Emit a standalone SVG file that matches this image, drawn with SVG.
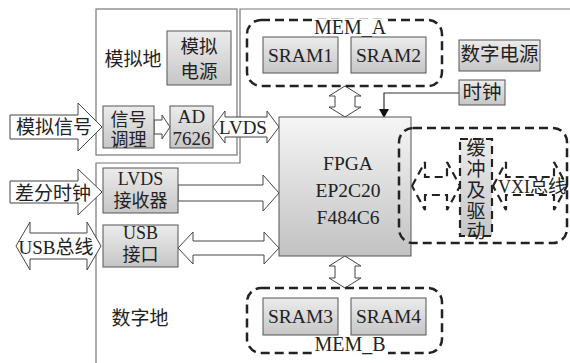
<svg xmlns="http://www.w3.org/2000/svg" width="570" height="363" viewBox="0 0 570 363">
<defs>
<linearGradient id="g" x1="0" y1="0" x2="0" y2="1"><stop offset="0" stop-color="#ececec"/><stop offset="1" stop-color="#c6c6c6"/></linearGradient>
<linearGradient id="gf" x1="0" y1="0" x2="0" y2="1"><stop offset="0" stop-color="#f6f6f6"/><stop offset="1" stop-color="#c2c2c2"/></linearGradient>
<style>
text{font-family:"Liberation Serif","Noto Sans CJK SC",serif;fill:#222;text-anchor:middle}
.box{fill:url(#g);stroke:#555;stroke-width:1}
.ha{fill:#fff;stroke:#444;stroke-width:1}
.da{fill:none;stroke:#222;stroke-width:2.2;stroke-dasharray:8 5}
.grp{fill:none;stroke:#222;stroke-width:2.5;stroke-dasharray:9 5}
.gnd{fill:none;stroke:#777;stroke-width:1.2}
</style>
</defs>
<rect width="570" height="363" fill="#fff"/>
<g id="grounds">
<rect class="gnd" x="96" y="9" width="141" height="146"/>
<polyline class="gnd" points="96,363 96,163 240,163 240,9 570,9"/>
<text x="133" y="66" font-size="19">模拟地</text>
<text x="140" y="325" font-size="19">数字地</text>
</g>
<g id="connectors">
<polygon class="ha" points="10,115 78,115 78,103 102,127 78,151 78,139 10,139"/>
<polygon class="ha" points="154,120 162,120 162,115 170,127 162,139 162,134 154,134"/>
<polygon class="ha" points="213,127 225,111 225,117 267,117 267,111 279,127 267,143 267,137 225,137 225,143"/>
<polygon class="ha" points="10,181 78,181 78,169 102,192 78,215 78,203 10,203"/>
<polygon class="ha" points="178,185 263,185 263,175 279,193 263,211 263,201 178,201"/>
<polygon class="ha" points="16,246 30,222 30,233 87,233 87,222 101,246 87,270 87,259 30,259 30,270"/>
<polygon class="ha" points="178,248 193,232 193,241 264,241 264,232 279,248 264,264 264,255 193,255 193,264"/>
<polygon class="ha" points="345,86 361,96 355,96 355,107 361,107 345,117 329,107 335,107 335,96 329,96"/>
<polygon class="ha" points="345,256 361,266 355,266 355,278 361,278 345,288 329,278 335,278 335,266 329,266"/>
<polyline points="459,93 384,93 384,110" fill="none" stroke="#333" stroke-width="1.2"/>
<polygon points="379,109 389,109 384,118" fill="#111"/>
<polygon class="da" points="412,186 425,162 425,177 447,177 447,162 460,186 447,210 447,195 425,195 425,210"/>
<polygon class="da" points="493,186 506,162 506,177 554,177 554,162 567,186 554,210 554,195 506,195 506,210"/>
<text x="54" y="134" font-size="19">模拟信号</text>
<text x="243" y="134" font-size="19">LVDS</text>
<text x="53" y="200" font-size="19">差分时钟</text>
<text x="56" y="254" font-size="19">USB总线</text>
<text x="532" y="193" font-size="18">VXI总线</text>
</g>
<g id="analog-power">
<rect class="box" x="167" y="31" width="64" height="54"/>
<text x="199" y="53" font-size="18.5">模拟</text>
<text x="199" y="78" font-size="18.5">电源</text>
</g>
<g id="signal-cond">
<rect class="box" x="103" y="106" width="51" height="42"/>
<text x="128.5" y="126" font-size="18">信号</text>
<text x="128.5" y="146" font-size="18">调理</text>
</g>
<g id="ad7626">
<rect class="box" x="170" y="106" width="43" height="42"/>
<text x="191.5" y="123" font-size="19">AD</text>
<text x="191.5" y="145" font-size="19">7626</text>
</g>
<g id="lvds-rx">
<rect class="box" x="103" y="168" width="75" height="45"/>
<text x="140.5" y="185" font-size="18">LVDS</text>
<text x="140.5" y="207" font-size="18">接收器</text>
</g>
<g id="usb">
<rect class="box" x="103" y="225" width="75" height="42"/>
<text x="140.5" y="239" font-size="18">USB</text>
<text x="140.5" y="261" font-size="18">接口</text>
</g>
<g id="fpga">
<rect x="279" y="117" width="132" height="139" fill="url(#gf)" stroke="#555" stroke-width="1"/>
<text x="348" y="170" font-size="19.5">FPGA</text>
<text x="348" y="197" font-size="19.5">EP2C20</text>
<text x="348" y="224" font-size="19.5">F484C6</text>
</g>
<g id="mem-a">
<rect class="grp" x="247" y="20" width="195" height="66" rx="14"/>
<rect x="312" y="19" width="76" height="15" fill="#fff"/>
<text x="350" y="34" font-size="20">MEM_A</text>
<rect class="box" x="263" y="37" width="75" height="36"/>
<text x="300.5" y="62" font-size="19.5">SRAM1</text>
<rect class="box" x="351" y="37" width="75" height="36"/>
<text x="388.5" y="62" font-size="19.5">SRAM2</text>
</g>
<g id="digital-power">
<rect class="box" x="459" y="40" width="81" height="31"/>
<text x="499.5" y="61" font-size="19.5">数字电源</text>
</g>
<g id="clock">
<rect class="box" x="459" y="80" width="46" height="25"/>
<text x="482" y="99" font-size="19.5">时钟</text>
</g>
<g id="buffer">
<rect class="grp" x="399" y="128" width="168" height="115" rx="14"/>
<rect x="460" y="139" width="32" height="97" fill="url(#g)" stroke="#222" stroke-width="2.2" stroke-dasharray="8 5"/>
<text x="476" y="155" font-size="19">缓</text>
<text x="476" y="176" font-size="19">冲</text>
<text x="476" y="197" font-size="19">及</text>
<text x="476" y="218" font-size="19">驱</text>
<text x="476" y="238" font-size="19">动</text>
</g>
<g id="mem-b">
<rect class="grp" x="247" y="288" width="195" height="65" rx="14"/>
<rect x="312" y="338" width="76" height="17" fill="#fff"/>
<text x="350" y="351" font-size="20">MEM_B</text>
<rect class="box" x="263" y="298" width="75" height="37"/>
<text x="300.5" y="323" font-size="19.5">SRAM3</text>
<rect class="box" x="351" y="298" width="75" height="37"/>
<text x="388.5" y="323" font-size="19.5">SRAM4</text>
</g>
</svg>
